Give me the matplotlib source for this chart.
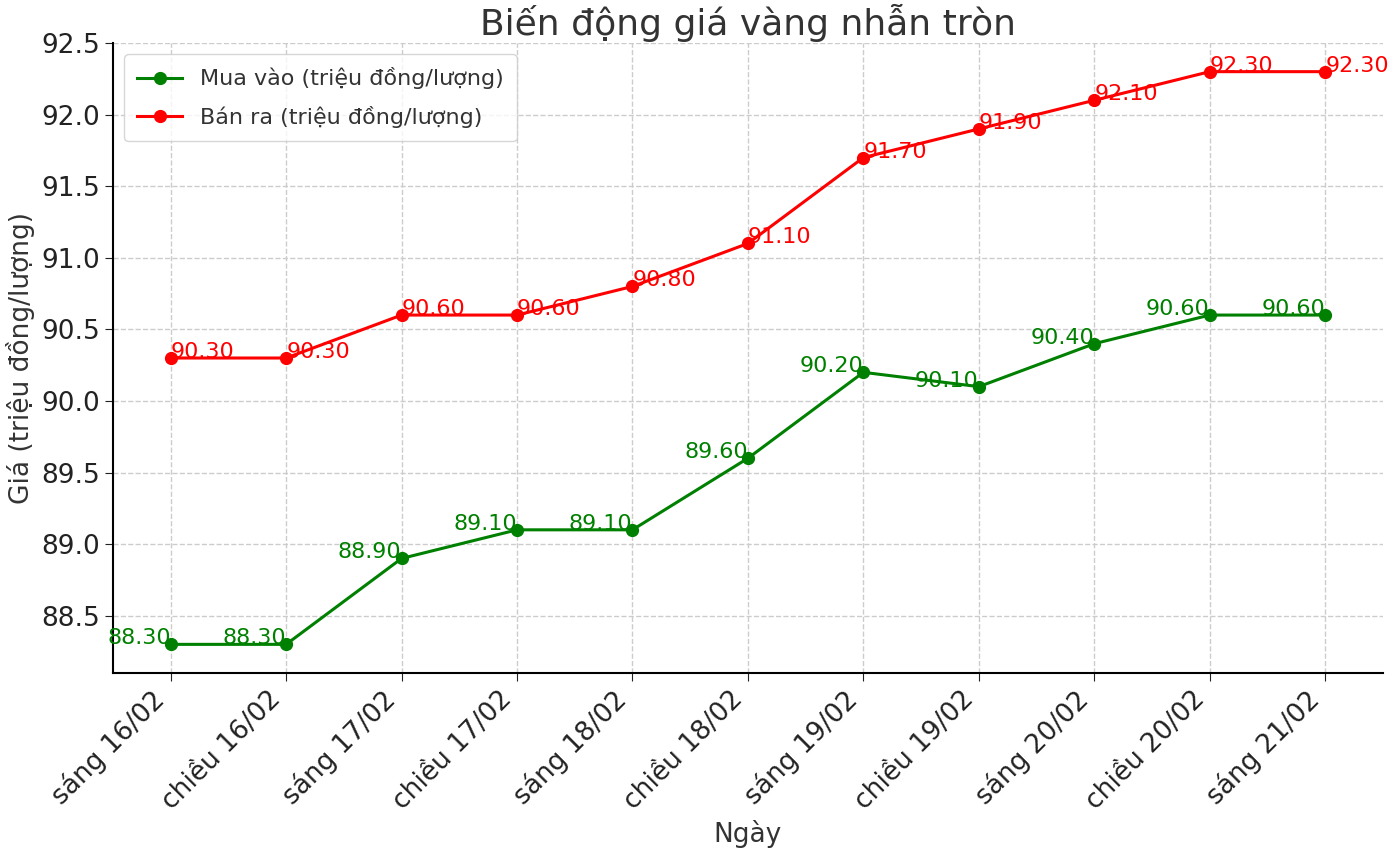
import matplotlib.pyplot as plt

days = ['sáng 16/02', 'chiều 16/02', 'sáng 17/02', 'chiều 17/02', 'sáng 18/02',
        'chiều 18/02', 'sáng 19/02', 'chiều 19/02', 'sáng 20/02', 'chiều 20/02',
        'sáng 21/02']
buy = [88.3, 88.3, 88.9, 89.1, 89.1, 89.6, 90.2, 90.1, 90.4, 90.6, 90.6]
sell = [90.3, 90.3, 90.6, 90.6, 90.8, 91.1, 91.7, 91.9, 92.1, 92.3, 92.3]

fig = plt.figure(figsize=(13.91, 8.52), dpi=100)
ax = fig.add_axes([0.0812, 0.2101, 0.9130, 0.7394])

x = range(len(days))
ax.plot(x, buy, color='green', marker='o', linewidth=2.2, markersize=8.5,
        label='Mua vào (triệu đồng/lượng)')
ax.plot(x, sell, color='red', marker='o', linewidth=2.2, markersize=8.5,
        label='Bán ra (triệu đồng/lượng)')

for i, v in enumerate(buy):
    ax.text(i, v, f'{v:.2f}', color='green', fontsize=16, ha='right')
for i, v in enumerate(sell):
    ax.text(i, v, f'{v:.2f}', color='red', fontsize=16, ha='left')

ax.set_xticks(list(x))
ax.set_xticklabels(days, rotation=45, ha='right')
ax.tick_params(axis='both', labelsize=19, colors='#222222', length=6)
ax.grid(True, linestyle='--', color='#cccccc', linewidth=1)
ax.spines['top'].set_visible(False)
ax.spines['right'].set_visible(False)
ax.spines['left'].set_linewidth(1.5)
ax.spines['bottom'].set_linewidth(1.5)

ax.set_title('Biến động giá vàng nhẫn tròn', fontsize=26, color='#333333', pad=6)
ax.set_xlabel('Ngày', fontsize=19, color='#333333')
ax.set_ylabel('Giá (triệu đồng/lượng)', fontsize=19, color='#333333')
ax.legend(loc='upper left', fontsize=16, labelcolor='#333333',
          labelspacing=0.75, borderpad=0.6)

fig.savefig('out.png')
